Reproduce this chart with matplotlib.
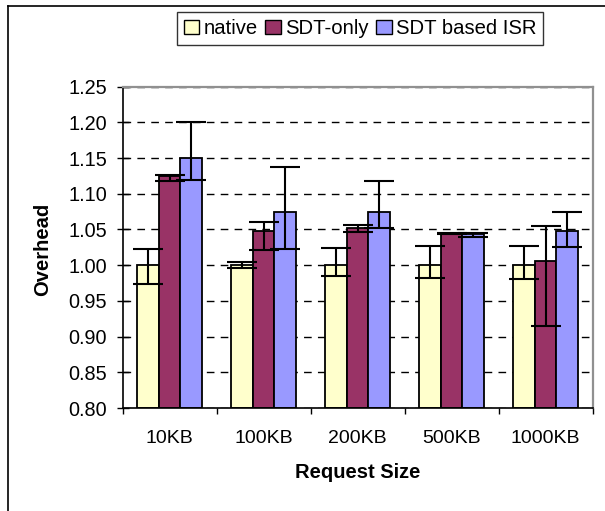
import matplotlib
matplotlib.use("Agg")
import matplotlib.pyplot as plt
import numpy as np
from matplotlib.lines import Line2D
from matplotlib.patches import Patch

plt.rcParams['font.family'] = ['Liberation Sans', 'DejaVu Sans']

categories = ["10KB", "100KB", "200KB", "500KB", "1000KB"]
series_names = ["native", "SDT-only", "SDT based ISR"]
native = [1.0, 1.0, 1.0, 1.0, 1.0]
native_lo = [0.026, 0.004, 0.015, 0.018, 0.020]
native_hi = [0.022, 0.004, 0.024, 0.027, 0.027]
sdt = [1.125, 1.048, 1.052, 1.044, 1.0065]
sdt_lo = [0.007, 0.027, 0.006, 0.001, 0.091]
sdt_hi = [0.002, 0.013, 0.004, 0.001, 0.048]
isr = [1.15, 1.075, 1.074, 1.043, 1.048]
isr_lo = [0.031, 0.053, 0.022, 0.004, 0.022]
isr_hi = [0.050, 0.063, 0.044, 0.002, 0.026]
yticks = [0.80, 0.85, 0.90, 0.95, 1.00, 1.05, 1.10, 1.15, 1.20, 1.25]

colors = ["#FFFFCC", "#993366", "#9999FF"]

W, H = 605, 511
fig = plt.figure(figsize=(W / 100, H / 100), dpi=100)
fig.patch.set_facecolor("white")

# outer chart frame (cut off at right/bottom)
fig.add_artist(Line2D([8 / W, 1.0], [1 - 6 / H, 1 - 6 / H], color="black", lw=1.2, transform=fig.transFigure))
fig.add_artist(Line2D([8 / W, 8 / W], [1 - 6 / H, 0.0], color="black", lw=1.2, transform=fig.transFigure))

left, right, top, bottom = 122.7, 592.7, 86.7, 408.0
ax = fig.add_axes([left / W, 1 - bottom / H, (right - left) / W, (bottom - top) / H])

x = np.arange(len(categories)) + 0.5
bw = 0.229
data = [(native, native_lo, native_hi), (sdt, sdt_lo, sdt_hi), (isr, isr_lo, isr_hi)]
for i, (vals, lo, hi) in enumerate(data):
    xs = x + (i - 1) * bw
    ax.bar(xs, np.array(vals) - 0.8, bw, bottom=0.8, color=colors[i], edgecolor="black", linewidth=1.3, zorder=2)
    ax.errorbar(xs, vals, yerr=[lo, hi], fmt="none", ecolor="black", elinewidth=1.5,
                capsize=10.5, capthick=1.5, zorder=3)

ax.set_xlim(0, len(categories))
ax.set_ylim(0.80, 1.25)
ax.set_yticks(yticks)
ax.set_yticklabels([f"{v:.2f}" for v in yticks])
ax.set_xticks(np.arange(len(categories) + 1))
ax.set_xticklabels([])
ax.set_xticks(x, minor=True)
ax.set_xticklabels(categories, minor=True)
ax.tick_params(axis="x", which="major", direction="out", length=4.3, width=1.0, color="black")
ax.tick_params(axis="x", which="minor", length=0, pad=16, labelsize=14)
ax.tick_params(axis="y", direction="inout", length=8.6, width=1.0, pad=7, labelsize=14.3)

ax.set_axisbelow(True)
ax.yaxis.grid(True, color="black", linestyle=(0, (5.5, 4.5)), linewidth=1.0, zorder=0)

ax.spines["left"].set_color("black")
ax.spines["bottom"].set_color("black")
ax.spines["left"].set_linewidth(1.2)
ax.spines["bottom"].set_linewidth(1.2)
ax.spines["top"].set_color("#909090")
ax.spines["right"].set_color("#909090")
ax.spines["top"].set_linewidth(1.6)
ax.spines["right"].set_linewidth(1.6)

fig.text(43 / W, 1 - 249.5 / H, "Overhead", rotation=90, ha="center", va="center",
         fontsize=14.5, fontweight="bold")
fig.text(357.7 / W, 1 - 472 / H, "Request Size", ha="center", va="center",
         fontsize=14.5, fontweight="bold")

handles = [Patch(facecolor=c, edgecolor="black", linewidth=1.0) for c in colors]
leg = fig.legend(handles, series_names, loc="center", bbox_to_anchor=(360 / W, 1 - 28.3 / H),
                 ncol=3, frameon=True, fancybox=False, fontsize=14.6, handlelength=0.75,
                 handleheight=0.7, handletextpad=0.2, columnspacing=0.4, borderpad=0.35,
                 borderaxespad=0)
leg.get_frame().set_edgecolor("black")
leg.get_frame().set_linewidth(1.0)

fig.savefig("out.png", dpi=100)
